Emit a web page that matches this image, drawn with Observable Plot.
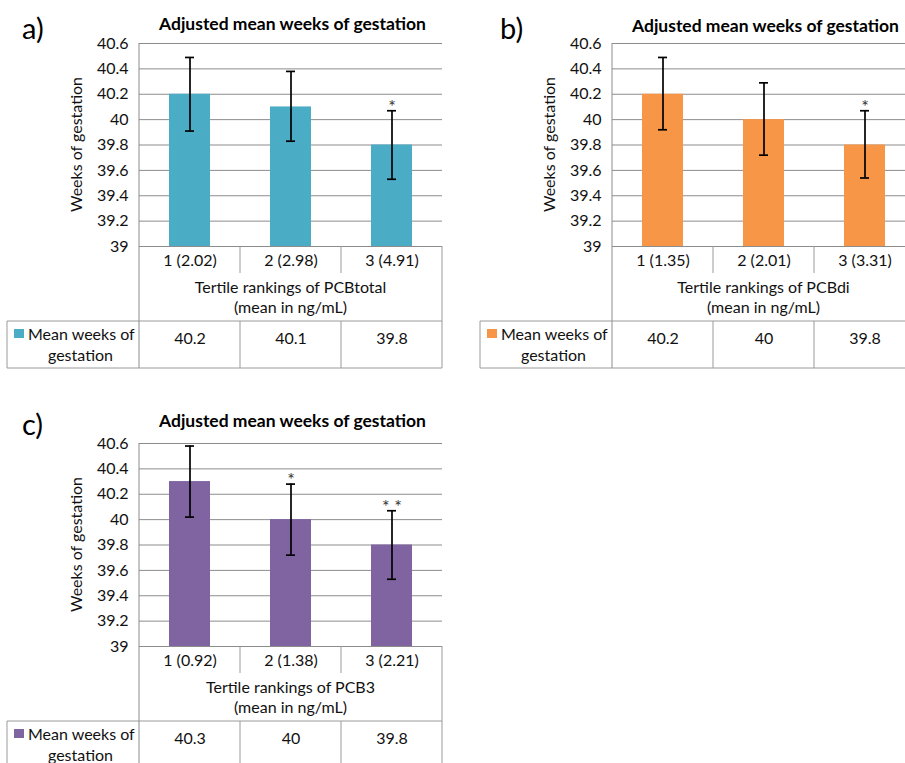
<!DOCTYPE html>
<html>
<head>
<meta charset="utf-8">
<script src="https://cdn.jsdelivr.net/npm/d3@7"></script>
<script src="https://cdn.jsdelivr.net/npm/@observablehq/plot@0.6"></script>
<style>
  html, body { margin: 0; padding: 0; background: #fff; }
  #root { position: relative; width: 905px; height: 763px; overflow: hidden; background: #fff; }
  .panel { position: absolute; width: 460px; height: 380px; }
  .panel svg { overflow: visible; max-width: none !important; }
</style>
</head>
<body>
<div id="root"></div>
<script>
// ---------- data ----------
const yTicks = [39, 39.2, 39.4, 39.6, 39.8, 40, 40.2, 40.4, 40.6];

const tagA = "a)";
const titleA = "Adjusted mean weeks of gestation";
const categoriesA = ["1 (2.02)", "2 (2.98)", "3 (4.91)"];
const meansA = [40.2, 40.1, 39.8];
const lowA = [39.91, 39.83, 39.53];
const highA = [40.49, 40.38, 40.07];
const starsA = ["", "", "*"];
const xTitleA = ["Tertile rankings of PCBtotal", "(mean in ng/mL)"];

const tagB = "b)";
const titleB = "Adjusted mean weeks of gestation";
const categoriesB = ["1 (1.35)", "2 (2.01)", "3 (3.31)"];
const meansB = [40.2, 40, 39.8];
const lowB = [39.92, 39.72, 39.54];
const highB = [40.49, 40.29, 40.07];
const starsB = ["", "", "*"];
const xTitleB = ["Tertile rankings of PCBdi", "(mean in ng/mL)"];

const tagC = "c)";
const titleC = "Adjusted mean weeks of gestation";
const categoriesC = ["1 (0.92)", "2 (1.38)", "3 (2.21)"];
const meansC = [40.3, 40, 39.8];
const lowC = [40.02, 39.72, 39.53];
const highC = [40.58, 40.28, 40.07];
const starsC = ["", "*", "* *"];
const xTitleC = ["Tertile rankings of PCB3", "(mean in ng/mL)"];

const yLabel = "Weeks of gestation";
const seriesName = ["Mean weeks of", "gestation"];

// ---------- styles / layout ----------
const FONT = "Lato, 'Open Sans', sans-serif";
const FS = 16;
const GRID = "#8c8c8c";
const TABLE = "#9a9a9a";

const panels = [
  {tag: tagA, title: titleA, cats: categoriesA, means: meansA, low: lowA, high: highA, stars: starsA, xTitle: xTitleA,
   color: "#4BACC6", left: 0, top: 0, tagX: 22, tagDy: -16, titleDy: -20},
  {tag: tagB, title: titleB, cats: categoriesB, means: meansB, low: lowB, high: highB, stars: starsB, xTitle: xTitleB,
   color: "#F79646", left: 473, top: 0, tagX: 27, tagDy: -16, titleDy: -18},
  {tag: tagC, title: titleC, cats: categoriesC, means: meansC, low: lowC, high: highC, stars: starsC, xTitle: xTitleC,
   color: "#8064A2", left: 0, top: 400, tagX: 22, tagDy: -20, titleDy: -23}
];

const root = document.getElementById("root");

function build(p) {
  const W = 460, H = 380, mL = 139, mR = 18, mT = 43, mB = 134;
  const data = p.cats.map((c, i) => ({
    cat: c, mean: p.means[i], lo: p.low[i], hi: p.high[i], star: p.stars[i], label: String(p.means[i])
  }));
  const base = yTicks[0];

  const plot = Plot.plot({
    width: W, height: H,
    marginLeft: mL, marginRight: mR, marginTop: mT, marginBottom: mB,
    style: {fontFamily: FONT, fontSize: FS + "px", color: "#111", background: "transparent", overflow: "visible", maxWidth: "none"},
    x: {domain: p.cats, padding: 0, tickSize: 0, tickPadding: 8, label: null},
    y: {domain: [yTicks[0], yTicks[yTicks.length - 1]], ticks: yTicks,
        tickFormat: d => String(+d.toFixed(1)), tickSize: 0, tickPadding: 11, label: null},
    marks: [
      Plot.ruleY(yTicks, {stroke: GRID, strokeWidth: 1}),
      Plot.barY(data, {x: "cat", y1: () => base, y2: "mean", fill: p.color, insetLeft: 30, insetRight: 30}),
      Plot.ruleX(data, {x: "cat", y1: "lo", y2: "hi", stroke: "#000", strokeWidth: 1.7}),
      Plot.tickY(data, {x: "cat", y: "lo", stroke: "#000", strokeWidth: 1.7, insetLeft: 46, insetRight: 46}),
      Plot.tickY(data, {x: "cat", y: "hi", stroke: "#000", strokeWidth: 1.7, insetLeft: 46, insetRight: 46}),
      Plot.text(data, {x: "cat", y: "hi", text: "star", dy: -4, fontSize: 18, fill: "#333"}),
      Plot.text(data, {x: "cat", text: "label", frameAnchor: "bottom", dy: 97, fontSize: FS, fill: "#111"})
    ]
  });

  const xs = plot.scale("x");
  const band = d3.scaleBand().domain(xs.domain).range(xs.range)
    .paddingInner(xs.paddingInner ?? xs.padding ?? 0)
    .paddingOuter(xs.paddingOuter ?? xs.padding ?? 0)
    .align(xs.align ?? 0.5)
    .round(!!xs.round);
  const edges = xs.domain.map(d => band(d)).concat([band(xs.domain[xs.domain.length - 1]) + band.bandwidth()]);
  const r0 = edges[0], r1 = edges[edges.length - 1];
  const y0 = H - mB;            // plot bottom
  const catRowBottom = y0 + 27;
  const dataTop = y0 + 75;
  const dataBottom = y0 + 122;
  const tableLeft = 7;

  const svg = d3.select(plot);
  const g = svg.append("g").attr("stroke", TABLE).attr("stroke-width", 1).attr("fill", "none");
  g.append("line").attr("x1", r0).attr("x2", r0).attr("y1", mT).attr("y2", dataBottom).attr("stroke", GRID);
  g.append("line").attr("x1", r1).attr("x2", r1).attr("y1", y0).attr("y2", dataBottom);
  edges.slice(1, -1).forEach(e => {
    g.append("line").attr("x1", e).attr("x2", e).attr("y1", y0).attr("y2", catRowBottom);
    g.append("line").attr("x1", e).attr("x2", e).attr("y1", dataTop).attr("y2", dataBottom);
  });
  g.append("line").attr("x1", tableLeft).attr("x2", r1).attr("y1", dataTop).attr("y2", dataTop);
  g.append("line").attr("x1", tableLeft).attr("x2", r1).attr("y1", dataBottom).attr("y2", dataBottom);
  g.append("line").attr("x1", tableLeft).attr("x2", tableLeft).attr("y1", dataTop).attr("y2", dataBottom);

  const t = svg.append("g").attr("font-family", FONT).attr("fill", "#111").attr("text-anchor", "start");
  const cx = (r0 + r1) / 2;
  t.append("text").attr("x", cx).attr("y", y0 + 40).attr("text-anchor", "middle").attr("dominant-baseline", "central")
    .attr("font-size", FS).text(p.xTitle[0]);
  t.append("text").attr("x", cx).attr("y", y0 + 60).attr("text-anchor", "middle").attr("dominant-baseline", "central")
    .attr("font-size", FS).text(p.xTitle[1]);
  // legend key + series name
  t.append("rect").attr("x", 14).attr("y", dataTop + 8).attr("width", 10).attr("height", 9).attr("fill", p.color);
  t.append("text").attr("x", 28).attr("y", dataTop + 12.5).attr("text-anchor", "start").attr("dominant-baseline", "central")
    .attr("font-size", FS).text(seriesName[0]);
  t.append("text").attr("x", 80.5).attr("y", dataTop + 33.5).attr("text-anchor", "middle").attr("dominant-baseline", "central")
    .attr("font-size", FS).text(seriesName[1]);
  // y label
  t.append("text").attr("transform", `translate(75,${(mT + y0) / 2}) rotate(-90)`)
    .attr("text-anchor", "middle").attr("dominant-baseline", "central").attr("font-size", FS).text(yLabel);
  // title and tag
  t.append("text").attr("x", cx + 2).attr("y", mT + p.titleDy).attr("text-anchor", "middle").attr("dominant-baseline", "central")
    .attr("font-size", 17.5).attr("font-weight", "bold").attr("fill", "#000").text(p.title);
  t.append("text").attr("x", p.tagX).attr("y", mT + p.tagDy).attr("text-anchor", "start").attr("dominant-baseline", "central")
    .attr("font-size", 29).attr("fill", "#000").text(p.tag);

  const div = document.createElement("div");
  div.className = "panel";
  div.style.left = p.left + "px";
  div.style.top = p.top + "px";
  div.appendChild(plot);
  root.appendChild(div);
}

panels.forEach(build);
</script>
</body>
</html>
